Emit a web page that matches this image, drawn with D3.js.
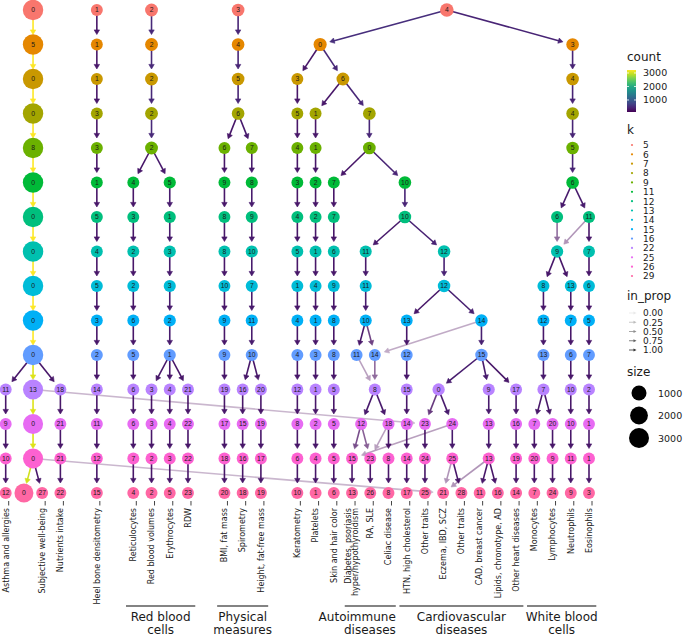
<!DOCTYPE html>
<html>
<head>
<meta charset="utf-8">
<script src="https://cdn.jsdelivr.net/npm/d3@7"></script>
<style>
  body { margin: 0; background: #fff; }
  svg { display: block; }
</style>
</head>
<body>
<svg id="chart"></svg>
<script>
const width = 683;
const height = 636;

// Resolutions (k), top to bottom
const kValues = [5, 6, 7, 8, 9, 11, 12, 13, 14, 15, 16, 22, 25, 26, 29];

// Nodes per resolution: [cluster, layout slot, count]
const nodesK5  = [[0,1.5,3230],[1,5,300],[2,8,470],[3,12.75,430],[4,24.2,640]];
const nodesK6  = [[5,1.5,3225],[1,5,300],[2,8,470],[4,12.75,430],[0,17.25,520],[3,31.1,420]];
const nodesK7  = [[0,1.5,3222],[1,5,300],[2,8,470],[5,12.75,430],[3,16,300],[6,18.5,460],[4,31.1,420]];
const nodesK8  = [[0,1.5,3222],[3,5,300],[2,8,470],[6,12.75,430],[5,16,300],[1,17,300],[7,19.95,440],[4,31.1,420]];
const nodesK9  = [[8,1.5,3222],[3,5,300],[2,8,470],[6,12,300],[7,13.5,330],[4,16,300],[1,17,300],[0,19.95,440],[5,31.1,420]];
const nodesK11 = [[0,1.5,3220],[1,5,300],[4,7,300],[5,9,340],[9,12,300],[8,13.5,330],[3,16,300],[2,17,300],[7,18,300],[10,21.9,420],[6,31.1,420]];
const nodesK12 = [[0,1.5,3220],[5,5,300],[3,7,300],[1,9,340],[8,12,300],[9,13.5,330],[4,16,300],[2,17,300],[7,18,300],[10,21.9,420],[6,30.25,320],[11,32,330]];
const nodesK13 = [[0,1.5,3220],[4,5,300],[2,7,300],[3,9,340],[8,12,300],[10,13.5,330],[5,16,300],[1,17,300],[6,18,300],[11,19.75,320],[12,24.05,400],[9,30.25,360],[7,32,300]];
const nodesK14 = [[0,1.5,3220],[5,5,300],[2,7,300],[3,9,340],[10,12,300],[7,13.5,330],[1,16,300],[4,17,300],[9,18,300],[11,19.75,320],[12,24.05,400],[8,29.5,310],[13,31,300],[6,32,300]];
const nodesK15 = [[0,1.5,3220],[3,5,300],[6,7,300],[2,9,340],[9,12,300],[11,13.5,330],[4,16,300],[1,17,300],[8,18,300],[10,19.75,330],[13,22,300],[14,26.1,380],[12,29.5,310],[7,31,300],[5,32,300]];
const nodesK16 = [[0,1.5,3220],[2,5,300],[5,7,300],[1,9,340],[9,12,300],[10,13.5,330],[4,16,300],[3,17,300],[8,18,300],[11,19.25,300],[14,20.25,300],[12,22,300],[15,26.1,380],[13,29.5,310],[6,31,300],[7,32,300]];
const nodesK22 = [[11,0,300],[13,1.5,3050],[18,3,300],[14,5,300],[6,7,300],[3,8,300],[4,9,300],[21,10,300],[19,12,300],[16,13,300],[20,14,300],[12,16,300],[1,17,300],[5,18,300],[8,20.25,330],[15,22,300],[0,23.75,360],[9,26.5,330],[17,28,300],[7,29.5,320],[10,31,300],[2,32,300]];
const nodesK25 = [[9,0,300],[0,1.5,3050],[21,3,300],[11,5,300],[6,7,300],[3,8,300],[4,9,300],[22,10,300],[17,12,300],[15,13,300],[19,14,300],[8,16,300],[2,17,300],[5,18,300],[12,19.5,320],[18,21,320],[14,22,300],[23,23,300],[24,24.5,330],[13,26.5,330],[16,28,300],[7,29,300],[20,30,300],[10,31,300],[1,32,300]];
const nodesK26 = [[10,0,300],[0,1.5,3050],[21,3,300],[12,5,300],[7,7,300],[2,8,300],[3,9,300],[22,10,300],[18,12,300],[16,13,300],[17,14,300],[6,16,300],[4,17,300],[5,18,300],[15,19,300],[23,20,300],[8,21,300],[14,22,300],[24,23,300],[25,24.5,320],[13,26.5,330],[19,28,300],[20,29,300],[9,30,300],[11,31,300],[1,32,300]];
const nodesK29 = [[12,0,300],[0,1,2500],[27,2,300],[22,3,300],[15,5,300],[4,7,300],[2,8,300],[5,9,300],[23,10,300],[20,12,300],[18,13,300],[19,14,300],[10,16,300],[1,17,300],[6,18,300],[13,19,300],[26,20,300],[8,21,300],[17,22,300],[25,23,300],[21,24,300],[28,25,300],[11,26,300],[16,27,300],[14,28,300],[7,29,300],[24,30,300],[9,31,300],[3,32,300]];

const nodesByK = [nodesK5, nodesK6, nodesK7, nodesK8, nodesK9, nodesK11, nodesK12, nodesK13,
                  nodesK14, nodesK15, nodesK16, nodesK22, nodesK25, nodesK26, nodesK29];

// Edges from one resolution to the next: [from cluster, to cluster, count, in_prop]
const edges5to6   = [[0,5,3220,1],[1,1,300,1],[2,2,470,1],[3,4,430,1],[4,0,520,1],[4,3,420,1]];
const edges6to7   = [[5,0,3220,1],[1,1,300,1],[2,2,470,1],[4,5,430,1],[0,3,300,1],[0,6,460,1],[3,4,420,1]];
const edges7to8   = [[0,0,3220,1],[1,3,300,1],[2,2,470,1],[5,6,430,1],[3,5,300,1],[6,1,300,1],[6,7,440,1],[4,4,420,1]];
const edges8to9   = [[0,8,3220,1],[3,3,300,1],[2,2,470,1],[6,6,300,1],[6,7,330,1],[5,4,300,1],[1,1,300,1],[7,0,440,1],[4,5,420,1]];
const edges9to11  = [[8,0,3220,1],[3,1,300,1],[2,4,300,1],[2,5,340,1],[6,9,300,1],[7,8,330,1],[4,3,300,1],[1,2,300,1],[0,7,300,1],[0,10,420,1],[5,6,420,1]];
const edges11to12 = [[0,0,3220,1],[1,5,300,1],[4,3,300,1],[5,1,340,1],[9,8,300,1],[8,9,330,1],[3,4,300,1],[2,2,300,1],[7,7,300,1],[10,10,420,1],[6,6,320,1],[6,11,330,1]];
const edges12to13 = [[0,0,3220,1],[5,4,300,1],[3,2,300,1],[1,3,340,1],[8,8,300,1],[9,10,330,1],[4,5,300,1],[2,1,300,1],[7,6,300,1],[10,11,320,1],[10,12,400,1],[6,9,200,0.55],[11,9,130,0.35],[11,7,300,1]];
const edges13to14 = [[0,0,3220,1],[4,5,300,1],[2,2,300,1],[3,3,340,1],[8,10,300,1],[10,7,330,1],[5,1,300,1],[1,4,300,1],[6,9,300,1],[11,11,320,1],[12,12,400,1],[9,8,310,1],[9,13,300,1],[7,6,300,1]];
const edges14to15 = [[0,0,3220,1],[5,3,300,1],[2,6,300,1],[3,2,340,1],[10,9,300,1],[7,11,330,1],[1,4,300,1],[4,1,300,1],[9,8,300,1],[11,10,330,1],[12,13,300,1],[12,14,380,1],[8,12,310,1],[13,7,300,1],[6,5,300,1]];
const edges15to16 = [[0,0,3220,1],[3,2,300,1],[6,5,300,1],[2,1,340,1],[9,9,300,1],[11,10,330,1],[4,4,300,1],[1,3,300,1],[8,8,300,1],[10,11,300,1],[10,14,230,0.75],[13,12,300,1],[14,15,380,1],[14,14,115,0.25],[12,13,310,1],[7,6,300,1],[5,7,300,1]];
const edges16to22 = [[0,11,300,1],[0,13,3050,1],[0,18,300,1],[2,14,300,1],[5,6,300,1],[1,3,300,1],[1,4,300,1],[1,21,300,1],[9,19,300,1],[10,16,300,1],[10,20,300,1],[4,12,300,1],[3,1,300,1],[8,5,300,1],[11,8,120,0.3],[14,8,180,0.55],[12,15,300,1],[15,0,360,1],[15,9,330,1],[15,17,300,1],[13,7,320,1],[6,10,300,1],[7,2,300,1]];
const edges22to25 = [[11,9,300,1],[13,0,3050,1],[18,21,300,1],[14,11,300,1],[6,6,300,1],[3,3,300,1],[4,4,300,1],[21,22,300,1],[19,17,300,1],[16,15,300,1],[20,19,300,1],[12,8,300,1],[1,2,300,1],[5,5,300,1],[8,12,320,1],[8,18,320,1],[15,14,300,1],[0,23,240,0.8],[0,24,330,1],[13,23,110,0.2],[9,13,330,1],[17,16,300,1],[7,7,300,1],[7,20,300,1],[10,10,300,1],[2,1,300,1]];
const edges25to26 = [[9,10,300,1],[0,0,3050,1],[21,21,300,1],[11,12,300,1],[6,7,300,1],[3,2,300,1],[4,3,300,1],[22,22,300,1],[17,18,300,1],[15,16,300,1],[19,17,300,1],[8,6,300,1],[2,4,300,1],[5,5,300,1],[12,15,210,0.7],[12,23,180,0.6],[18,8,300,1],[18,23,120,0.3],[14,14,300,1],[23,24,300,1],[24,25,320,1],[24,15,120,0.3],[13,13,330,1],[16,19,300,1],[7,20,300,1],[20,9,300,1],[10,11,300,1],[1,1,300,1]];
const edges26to29 = [[10,12,300,1],[0,0,3000,1],[0,27,300,1],[0,21,110,0.2],[21,22,300,1],[12,15,300,1],[7,4,300,1],[2,2,300,1],[3,5,300,1],[22,23,300,1],[18,20,300,1],[16,18,300,1],[17,19,300,1],[6,10,300,1],[4,1,300,1],[5,6,300,1],[15,13,300,1],[23,26,300,1],[8,8,300,1],[14,17,300,1],[24,25,300,1],[25,21,130,0.35],[25,28,300,1],[13,11,300,1],[13,16,300,1],[13,21,130,0.35],[19,14,300,1],[20,7,300,1],[9,24,300,1],[11,9,300,1],[1,3,300,1]];

const edgesByStep = [edges5to6, edges6to7, edges7to8, edges8to9, edges9to11, edges11to12, edges12to13,
                     edges13to14, edges14to15, edges15to16, edges16to22, edges22to25, edges25to26, edges26to29];

// Leaf labels at k = 29, keyed by cluster
const leafLabels = [
  [12, ["Asthma and allergies"]], [27, ["Subjective well-being"]], [22, ["Nutrients intake"]],
  [15, ["Heel bone densitometry"]], [4, ["Reticulocytes"]], [2, ["Red blood volumes"]],
  [5, ["Erythrocytes"]], [23, ["RDW"]], [20, ["BMI, fat mass"]], [18, ["Spirometry"]],
  [19, ["Height, fat-free mass"]], [10, ["Keratometry"]], [1, ["Platelets"]],
  [6, ["Skin and hair color"]], [13, ["Diabetes, psoriasis", "hyper/hypothyroidism"]],
  [26, ["RA, SLE"]], [8, ["Celiac disease"]], [17, ["HTN,  high cholesterol"]],
  [25, ["Other traits"]], [21, ["Eczema, IBD, SCZ"]], [28, ["Other traits"]],
  [11, ["CAD, breast cancer"]], [16, ["Lipids, chronotype, AD"]], [14, ["Other heart diseases"]],
  [7, ["Monocytes"]], [24, ["Lymphocytes"]], [9, ["Neutrophils"]], [3, ["Eosinophils"]]
];

// Trait groups under the axis: [text lines, first leaf cluster, last leaf cluster]
const traitGroups = [
  [["Red blood", "cells"], 4, 23],
  [["Physical", "measures"], 20, 19],
  [["Autoimmune", "diseases"], 13, 8],
  [["Cardiovascular", "diseases"], 17, 14],
  [["White blood", "cells"], 7, 3]
];
const rightAlignedGroups = ["Autoimmune"];

// Legend values
const countTicks = [1000, 2000, 3000];
const inPropTicks = [0, 0.25, 0.5, 0.75, 1];
const sizeTicks = [1000, 2000, 3000];

// ggplot hue palette for the 15 k levels
const kPalette = ["#F8766D","#E58700","#C99800","#A3A500","#6BB100","#00BA38","#00BF7D","#00C0AF",
                  "#00BCD8","#00B0F6","#619CFF","#B983FF","#E76BF3","#FD61D1","#FF67A4"];

// ---------------------------------------------------------------
const svg = d3.select("#chart")
    .attr("width", width)
    .attr("height", height)
    .attr("viewBox", [0, 0, width, height]);

const x = d3.scaleLinear().domain([0, 32]).range([5.7, 589]);
const y = d3.scalePoint().domain(kValues).range([10, 493]);
const kColor = d3.scaleOrdinal(kValues, kPalette);
const rScale = d3.scaleSqrt().domain([0, 3000]).range([4.1, 10]);

const edgeColor = d3.scaleSequential(d3.interpolateViridis).domain([110, 3220]);
const edgeAlpha = d3.scaleLinear().domain([0, 1]).range([0.1, 1]);

// Node lookup
const nodes = [];
const nodeMap = new Map();
nodesByK.forEach((list, i) => {
  const k = kValues[i];
  list.forEach(([cl, slot, count]) => {
    const n = {k, cl, slot, count, x: x(slot), y: y(k)};
    nodes.push(n);
    nodeMap.set(k + "_" + cl, n);
  });
});

const edges = [];
edgesByStep.forEach((list, i) => {
  list.forEach(([from, to, count, inProp]) => {
    edges.push({
      source: nodeMap.get(kValues[i] + "_" + from),
      target: nodeMap.get(kValues[i + 1] + "_" + to),
      count, inProp
    });
  });
});

// Edges with arrow heads
const endCap = 10, arrowLen = 4.6, arrowHalf = 2.7;
const edgeG = svg.append("g").attr("g-name", "edges");
edges.forEach(e => {
  const dx = e.target.x - e.source.x, dy = e.target.y - e.source.y;
  const len = Math.hypot(dx, dy);
  const ux = dx / len, uy = dy / len;
  const tipX = e.target.x - ux * endCap, tipY = e.target.y - uy * endCap;
  const baseX = tipX - ux * arrowLen, baseY = tipY - uy * arrowLen;
  const col = edgeColor(e.count);
  const g = edgeG.append("g").attr("opacity", edgeAlpha(e.inProp));
  g.append("line")
      .attr("x1", e.source.x).attr("y1", e.source.y)
      .attr("x2", baseX + ux).attr("y2", baseY + uy)
      .attr("stroke", col)
      .attr("stroke-width", 1.6);
  g.append("path")
      .attr("d", `M${tipX},${tipY}L${baseX - uy * arrowHalf},${baseY + ux * arrowHalf}L${baseX + uy * arrowHalf},${baseY - ux * arrowHalf}Z`)
      .attr("fill", col)
      .attr("stroke", col)
      .attr("stroke-width", 0.6);
});

// Nodes
const nodeG = svg.append("g").attr("g-name", "nodes");
nodeG.selectAll("circle")
    .data(nodes)
    .join("circle")
    .attr("cx", d => d.x)
    .attr("cy", d => d.y)
    .attr("r", d => rScale(d.count))
    .attr("fill", d => kColor(d.k));

nodeG.selectAll("text")
    .data(nodes)
    .join("text")
    .attr("x", d => d.x)
    .attr("y", d => d.y)
    .attr("dy", "0.35em")
    .attr("text-anchor", "middle")
    .attr("font-family", "Liberation Sans, Arial, sans-serif")
    .attr("font-size", 6.8)
    .attr("fill", "#1a1a1a")
    .text(d => d.cl);

// Leaf axis labels
const lastK = kValues[kValues.length - 1];
const axisG = svg.append("g").attr("g-name", "x-axis");
leafLabels.forEach(([cl, lines]) => {
  const n = nodeMap.get(lastK + "_" + cl);
  axisG.append("line")
      .attr("x1", n.x + 3).attr("x2", n.x + 3)
      .attr("y1", 501).attr("y2", 505.5)
      .attr("stroke", "#444")
      .attr("stroke-width", 1);
  lines.forEach((t, j) => {
    const off = (j - (lines.length - 1) / 2) * 7.2;
    axisG.append("text")
        .attr("transform", `translate(${n.x + off},508) rotate(-90)`)
        .attr("text-anchor", "end")
        .attr("dy", "0.35em")
        .attr("font-family", "DejaVu Sans, sans-serif")
        .attr("font-size", 8)
        .attr("fill", "#1a1a1a")
        .text(t);
  });
});

// Trait groups
const groupG = svg.append("g").attr("g-name", "groups");
const colStep = x(1) - x(0);
traitGroups.forEach(([lines, first, last]) => {
  const x0 = nodeMap.get(lastK + "_" + first).x - colStep * 0.4;
  const x1 = nodeMap.get(lastK + "_" + last).x + colStep * 0.4;
  groupG.append("line")
      .attr("x1", x0).attr("x2", x1)
      .attr("y1", 606).attr("y2", 606)
      .attr("stroke", "#5a5a5a")
      .attr("stroke-width", 1.6);
  const right = rightAlignedGroups.includes(lines[0]);
  lines.forEach((t, j) => {
    groupG.append("text")
        .attr("x", right ? x1 : (x0 + x1) / 2)
        .attr("y", 621 + j * 13)
        .attr("text-anchor", right ? "end" : "middle")
        .attr("font-family", "DejaVu Sans, sans-serif")
        .attr("font-size", 12)
        .attr("fill", "#1a1a1a")
        .text(t);
  });
});

// ---------------------------------------------------------------
// Legends
const lg = svg.append("g").attr("g-name", "legend")
    .attr("font-family", "DejaVu Sans, sans-serif")
    .attr("fill", "#1a1a1a");
const lx = 627;

// count colourbar
lg.append("text").attr("x", lx).attr("y", 61).attr("font-size", 12).text("count");
const barY = d3.scaleLinear().domain([110, 3220]).range([112, 70]);
const grad = svg.append("defs").append("linearGradient")
    .attr("id", "count-grad")
    .attr("x1", 0).attr("y1", 1).attr("x2", 0).attr("y2", 0);
d3.range(0, 1.0001, 0.1).forEach(t => {
  grad.append("stop").attr("offset", t).attr("stop-color", d3.interpolateViridis(t));
});
lg.append("rect")
    .attr("x", lx).attr("y", 70)
    .attr("width", 9).attr("height", 42)
    .attr("fill", "url(#count-grad)");
countTicks.forEach(v => {
  const yy = barY(v);
  lg.append("line").attr("x1", lx).attr("x2", lx + 2).attr("y1", yy).attr("y2", yy)
      .attr("stroke", "#fff").attr("stroke-width", 0.8);
  lg.append("line").attr("x1", lx + 7).attr("x2", lx + 9).attr("y1", yy).attr("y2", yy)
      .attr("stroke", "#fff").attr("stroke-width", 0.8);
  lg.append("text").attr("x", 643).attr("y", yy + 3.5).attr("font-size", 9.5).text(v);
});

// k legend
lg.append("text").attr("x", lx).attr("y", 134).attr("font-size", 12).text("k");
const kY = d3.scalePoint().domain(kValues).range([145, 276]);
kValues.forEach(k => {
  lg.append("circle").attr("cx", 632).attr("cy", kY(k)).attr("r", 1.1).attr("fill", kColor(k));
  lg.append("text").attr("x", 643).attr("y", kY(k) + 3.4).attr("font-size", 9).text(k);
});

// in_prop legend
lg.append("text").attr("x", lx).attr("y", 300).attr("font-size", 12).text("in_prop");
const pY = d3.scalePoint().domain(inPropTicks).range([313, 350]);
inPropTicks.forEach(p => {
  const yy = pY(p);
  const g = lg.append("g").attr("opacity", edgeAlpha(p));
  g.append("line").attr("x1", 629).attr("x2", 634).attr("y1", yy).attr("y2", yy)
      .attr("stroke", "#333").attr("stroke-width", 0.8);
  g.append("path").attr("d", `M636.5,${yy}L633.5,${yy - 1.6}L633.5,${yy + 1.6}Z`).attr("fill", "#333");
  lg.append("text").attr("x", 643).attr("y", yy + 3.4).attr("font-size", 9).text(d3.format(".2f")(p));
});

// size legend
lg.append("text").attr("x", lx).attr("y", 376).attr("font-size", 12).text("size");
const sY = d3.scalePoint().domain(sizeTicks).range([393, 438]);
sizeTicks.forEach(s => {
  lg.append("circle").attr("cx", 639).attr("cy", sY(s)).attr("r", rScale(s)).attr("fill", "#000");
  lg.append("text").attr("x", 658).attr("y", sY(s) + 3.5).attr("font-size", 9.5).text(s);
});
</script>
</body>
</html>
